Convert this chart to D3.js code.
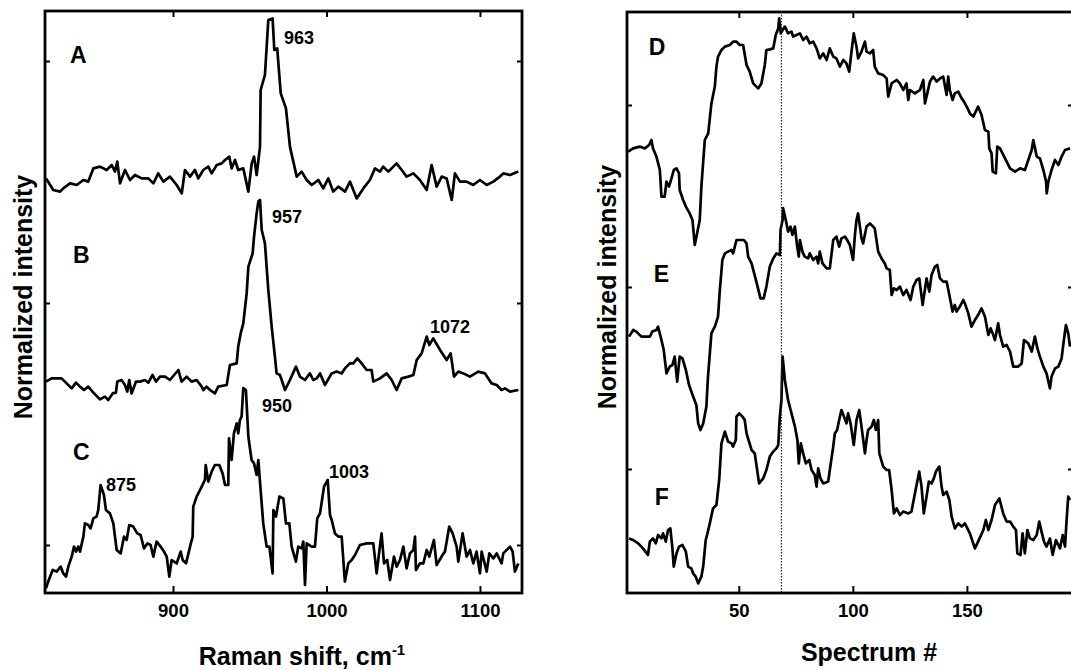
<!DOCTYPE html>
<html>
<head>
<meta charset="utf-8">
<script src="https://cdn.jsdelivr.net/npm/d3@7"></script>
<style>
  body { margin: 0; background: #fff; }
  svg { display: block; font-family: "Liberation Sans", Arial, Helvetica, sans-serif; font-weight: bold; }
</style>
</head>
<body>
<script>
// Raman spectra (left) — stacked, arbitrary intensity units
const shiftA = [817.3, 822, 826.4, 828.5, 832.9, 837.3, 841.6, 844.8, 848.1, 852.4, 856.8, 860.1, 862.2, 863.7, 865.5, 868.7, 872, 875.2, 879.6, 883.9, 887.2, 890.4, 893.7, 898, 902.4, 905.7, 907.8, 911.1, 914.3, 916.5, 919.7, 923, 925.2, 928.5, 931.7, 933.9, 936.7, 938.2, 940.4, 942.5, 945.8, 949.1, 951.3, 952.8, 954.5, 956.7, 957.1, 959.9, 962.1, 964.9, 966, 967.9, 970.2, 973.6, 976.2, 980.6, 983.8, 987.1, 990.4, 994.7, 997.9, 1001.2, 1004.4, 1007.7, 1012.1, 1015.3, 1019.7, 1024, 1028.3, 1031.6, 1034.9, 1037, 1040.3, 1045.7, 1049, 1052.2, 1056.6, 1060.9, 1065.3, 1068.5, 1071.8, 1075.1, 1078.3, 1081.6, 1083.7, 1087, 1091.3, 1095.6, 1100, 1104.4, 1108.7, 1113, 1115.2, 1119.6, 1125];
const intensityA = [207.3, 201.5, 200.7, 202.3, 204.8, 204, 206.5, 205.7, 212.3, 213.2, 211.5, 214, 210.7, 215.7, 204.8, 211.5, 206.5, 209, 207.3, 207.3, 204.8, 209.8, 205.7, 208.2, 204, 199.8, 211.5, 208.2, 211.5, 207.3, 211.5, 213.2, 209.8, 214, 214.8, 216.5, 218.2, 212.3, 216.5, 211.5, 212.3, 200.7, 214.8, 218.2, 209, 223.2, 251.5, 259, 286.5, 287.3, 271.5, 272.3, 249.8, 242.3, 223.2, 208.2, 210.7, 206.5, 204, 206.5, 202.3, 207.3, 200.7, 203.2, 200.7, 205.7, 197.3, 202.3, 206.5, 212.3, 210.7, 213.2, 210.7, 214.8, 211.5, 208.2, 209.8, 206.5, 201.5, 214, 203.2, 208.2, 207.3, 196.5, 209.8, 205.7, 205.7, 204, 206.5, 204, 205.7, 208.2, 209.8, 209, 210.7];

const shiftB = [817.2, 820.9, 827.4, 830.7, 834.0, 836.8, 839.4, 842.0, 844.8, 848.1, 852.4, 855.7, 857.8, 860.7, 862.8, 863.7, 866.5, 868.7, 870.2, 871.5, 873.0, 875.9, 878.5, 881.7, 883.9, 886.7, 888.9, 891.5, 894.8, 898.0, 903.5, 905.6, 908.9, 912.1, 915.4, 918.7, 919.7, 921.9, 924.1, 927.3, 929.5, 935.0, 937.1, 941.5, 942.5, 944.1, 945.8, 948.0, 949.1, 951.9, 952.8, 954.5, 955.6, 956.7, 957.8, 959.9, 962.1, 964.3, 966.4, 967.5, 969.7, 973.0, 976.2, 980.1, 982.7, 986.0, 989.2, 991.4, 993.6, 995.8, 999.0, 1003.4, 1006.6, 1009.9, 1012.0, 1015.3, 1017.5, 1020.1, 1022.9, 1026.2, 1029.4, 1030.5, 1034.9, 1039.2, 1042.5, 1045.7, 1049.0, 1053.3, 1056.6, 1058.8, 1062.0, 1065.3, 1067.0, 1069.6, 1074.0, 1078.3, 1080.9, 1083.1, 1085.9, 1089.2, 1093.5, 1098.9, 1103.3, 1107.6, 1110.9, 1114.1, 1116.3, 1119.6, 1125.0];
const intensityB = [105.7, 107.3, 107.3, 104.8, 102.3, 105.2, 103.2, 101.5, 103.2, 100.2, 96.8, 98.2, 96.5, 99.8, 100.2, 105.7, 106.5, 104, 100.7, 106.5, 99.8, 105.7, 105.7, 106.5, 105.2, 109, 105.7, 108.2, 108.2, 106.5, 111.5, 105.7, 108.2, 105.7, 106.5, 103.2, 101.5, 103.2, 101.5, 99.8, 103.2, 104, 114, 114.8, 123.2, 129.8, 134.8, 149.8, 163.2, 169.8, 178.2, 189.8, 195.7, 196.5, 181.5, 174.8, 151.5, 133.2, 118.2, 109.8, 109, 101.5, 106.5, 113.2, 108.2, 106.5, 109.8, 106.5, 107.3, 109.8, 104, 109.8, 110.7, 109.8, 112.3, 114.8, 114.8, 117.3, 114.8, 111.5, 111.5, 105.7, 107.3, 109.8, 106.5, 101.5, 107.3, 108.2, 109, 116.5, 119.8, 128.2, 124, 127.3, 121.5, 116.5, 119.8, 108.2, 110.7, 109.8, 108.2, 110.7, 109.8, 104.8, 104, 101.5, 102.3, 100.7, 101.5];

const shiftC = [817.2, 818.7, 821.6, 824.2, 826.8, 828.5, 830.3, 831.8, 834.0, 835.5, 836.8, 838.3, 839.4, 841.6, 842.6, 844.8, 846.3, 848.1, 850.2, 851.3, 852.8, 855.0, 856.3, 858.9, 861.1, 863.3, 865.9, 868.1, 869.8, 871.5, 874.1, 876.7, 878.9, 881.1, 883.3, 885.4, 887.2, 889.3, 891.9, 894.1, 895.9, 897.6, 899.1, 902.4, 905.0, 906.3, 908.5, 911.1, 912.8, 913.2, 915.4, 918.7, 920.8, 921.3, 923.0, 925.2, 927.3, 930.2, 932.3, 933.9, 936.0, 936.5, 938.2, 939.7, 941.5, 942.5, 943.6, 944.7, 945.8, 947.5, 949.1, 951.2, 952.8, 954.5, 955.6, 957.1, 958.8, 961.0, 962.8, 964.9, 965.4, 967.1, 969.3, 971.9, 973.6, 975.8, 977.3, 980.1, 981.6, 983.8, 984.9, 986.0, 987.1, 990.3, 992.5, 994.0, 995.8, 998.4, 1000.8, 1002.3, 1003.4, 1005.5, 1007.7, 1009.9, 1012.0, 1014.2, 1016.4, 1018.6, 1021.8, 1026.2, 1030.5, 1032.7, 1034.4, 1035.9, 1037.5, 1039.6, 1041.4, 1044.0, 1045.7, 1047.9, 1050.1, 1052.2, 1054.4, 1056.6, 1057.7, 1058.3, 1060.9, 1063.1, 1065.3, 1067.0, 1070.0, 1071.8, 1075.0, 1077.2, 1080.0, 1082.2, 1084.8, 1085.9, 1088.7, 1091.3, 1093.5, 1095.7, 1097.8, 1100.0, 1101.1, 1104.4, 1106.1, 1108.7, 1110.9, 1114.1, 1115.2, 1119.6, 1121.3, 1122.8, 1125.0];
const intensityC = [2.3, 5.7, 11.5, 10.7, 13.2, 9.8, 8.2, 13.2, 18.2, 23.2, 20.7, 23.2, 20.7, 28.2, 34.8, 34, 32.3, 37.3, 38.2, 41.5, 54, 49, 41.5, 39.8, 34.8, 21.5, 19.8, 28.2, 26.5, 34, 33.2, 29.8, 29, 22.3, 24.8, 24, 18.2, 25.7, 23.2, 20.7, 18.2, 8.2, 16.5, 14.8, 20.7, 16.5, 14.8, 23.2, 28.2, 43.2, 48.2, 53.2, 56.5, 64, 55.7, 60.7, 64, 64, 59.8, 54, 54, 77.3, 66.5, 79.8, 84.8, 79.8, 86.5, 88.2, 102.5, 101.5, 78.2, 66.5, 64.8, 59, 66.5, 51.5, 34.8, 23.2, 23.2, 9.8, 41.5, 38.2, 48.2, 47.3, 34.8, 34.8, 23.2, 15.7, 23.2, 22.3, 25.7, 4, 24.8, 23.2, 23.2, 37.3, 39.8, 53.2, 56.5, 39, 36.5, 29.8, 28.2, 28.2, 5.7, 14.8, 16.5, 19, 24, 24.8, 24.8, 9.8, 20.7, 29.8, 14.8, 16.5, 6.5, 18.2, 13.2, 16.5, 23.2, 12.3, 19.8, 21.5, 28.2, 11.5, 14.8, 14.8, 21.5, 18.2, 26.5, 14, 18.2, 20.7, 33.2, 29.8, 23.2, 15.7, 29.8, 18.2, 21.5, 14.8, 20.7, 9.8, 20.7, 10.7, 19.8, 17.3, 19.8, 14.8, 19.8, 23.2, 20.7, 10.7, 14.8];

// Intensity vs spectrum number (right) — stacked
const spectrumD = [1.5, 3.7, 6.6, 8.8, 10.7, 11.7, 12.4, 13.9, 15.4, 16.1, 17.5, 18.3, 19.4, 20.5, 21.5, 22.7, 23.8, 24.1, 25.6, 26.8, 28.5, 29.7, 30.7, 32.9, 33.6, 35.1, 36.6, 38.0, 39.5, 40.2, 40.9, 42.4, 43.9, 46.1, 47.5, 49.0, 50.4, 51.9, 53.4, 54.8, 56.3, 58.5, 59.9, 61.4, 62.1, 63.6, 65.1, 66.2, 67.3, 67.7, 68.4, 69.2, 70.2, 71.6, 73.1, 73.8, 75.3, 76.8, 78.2, 79.7, 81.1, 82.6, 84.1, 85.5, 87.0, 88.5, 89.9, 91.4, 92.8, 94.3, 95.8, 97.2, 98.4, 99.4, 100.4, 101.6, 102.3, 103.8, 104.5, 105.3, 106.0, 107.5, 108.9, 109.6, 111.1, 113.3, 114.8, 115.5, 117.0, 119.2, 120.6, 122.1, 123.5, 124.3, 125.0, 127.2, 129.4, 130.9, 131.6, 133.8, 135.2, 136.7, 138.2, 139.6, 141.1, 141.8, 142.5, 143.7, 144.7, 146.2, 147.7, 148.7, 149.9, 151.3, 152.8, 154.9, 156.4, 157.9, 159.4, 159.8, 160.8, 161.3, 162.7, 163.3, 164.5, 166.7, 168.9, 171.1, 173.3, 175.4, 176.9, 178.4, 179.1, 180.6, 182.0, 183.5, 184.7, 185.0, 185.7, 187.1, 188.6, 190.1, 191.5, 193.0, 195.2];
const intensityD = [220.7, 222.3, 223.2, 222.3, 224, 226.5, 222.3, 218.2, 211.5, 198.2, 198.2, 205.7, 203.2, 207.3, 211.5, 212.3, 209.8, 201.5, 196.5, 193.2, 189.8, 186.5, 174, 186.5, 203.2, 226.5, 229.8, 244.8, 253.2, 263.2, 268.2, 271.5, 273.2, 274, 275.7, 275.7, 274, 274, 264, 260.7, 254.8, 252.3, 254.8, 264, 271.5, 271.8, 272.3, 279, 282.3, 287.3, 279.8, 281.5, 283.2, 279.8, 280.7, 278.2, 279, 279.8, 276.5, 278.2, 274.8, 275.7, 272.3, 267.3, 269.8, 266.5, 272.3, 268.2, 267.3, 263.2, 266.5, 264.8, 260.7, 270.7, 279.8, 273.2, 267.3, 270.7, 273.2, 275.7, 270.7, 269.8, 271.5, 263.2, 259.8, 259, 257.3, 248.2, 254.8, 256.5, 254.8, 251.5, 254.8, 246.5, 251.5, 249.8, 251.5, 256.5, 244.8, 255.7, 258.2, 255.7, 257.3, 258.2, 249, 258.2, 251.5, 246.5, 249.8, 250.7, 247.3, 245.7, 243.2, 239.8, 238.2, 243.2, 239, 231.5, 230.7, 222.3, 219.8, 210.7, 209.8, 223.2, 222.3, 217.3, 212.3, 210.7, 212.3, 211.5, 216.5, 221.5, 226.5, 218.2, 217.3, 211.5, 205.7, 199.8, 205.7, 211.5, 216.5, 214, 218.2, 221.5, 222.3];

const spectrumE = [1.9, 3.7, 5.1, 7.3, 11.0, 12.1, 13.9, 14.6, 16.1, 17.1, 18.3, 19.7, 20.9, 21.9, 23.0, 24.1, 25.3, 26.8, 28.2, 30.0, 31.4, 32.2, 33.2, 34.4, 35.8, 36.5, 38.0, 39.5, 40.9, 41.7, 42.8, 43.9, 45.3, 46.8, 47.5, 49.0, 50.4, 52.2, 53.4, 54.1, 55.6, 57.7, 59.5, 60.9, 62.1, 63.6, 65.1, 66.5, 68.0, 68.3, 69.2, 69.4, 70.6, 71.6, 72.7, 73.5, 74.6, 75.6, 76.3, 76.8, 77.9, 78.9, 80.4, 81.1, 82.6, 84.1, 84.8, 85.5, 86.7, 88.5, 89.9, 90.6, 91.4, 92.8, 94.0, 95.0, 96.5, 97.5, 98.7, 100.1, 100.9, 101.6, 102.3, 103.8, 104.5, 106.0, 107.5, 109.6, 111.1, 112.6, 114.0, 114.8, 116.2, 117.0, 118.0, 119.2, 120.6, 122.1, 123.5, 125.3, 126.5, 127.9, 129.1, 130.6, 132.3, 133.5, 134.5, 136.0, 137.0, 138.2, 139.6, 141.1, 142.3, 143.7, 144.7, 145.5, 146.9, 148.4, 149.1, 150.6, 152.0, 153.5, 154.9, 156.4, 157.9, 159.4, 160.4, 161.3, 162.3, 163.7, 164.5, 165.9, 167.4, 168.9, 170.3, 172.5, 174.0, 175.0, 176.9, 178.4, 179.8, 180.9, 182.0, 183.5, 184.9, 186.4, 187.1, 188.6, 190.1, 191.5, 192.5, 193.4, 194.4, 195.2];
const intensityE = [128.2, 131.5, 130.7, 128.2, 128.2, 130.7, 131.5, 133.2, 126.5, 121.5, 109.8, 113.2, 114, 118.2, 105.7, 118.2, 117.3, 111.5, 104, 98.2, 94, 84.8, 81.5, 84.8, 93.2, 108.2, 129.8, 133.2, 138.2, 151.5, 166.5, 169.8, 170.7, 171.5, 169.8, 176.5, 176.5, 176.5, 174.8, 168.2, 164.8, 155.7, 147.3, 147.3, 153.2, 163.2, 167.3, 169.8, 169, 181.5, 186.5, 192.5, 186.5, 180.7, 183.2, 179, 183.2, 173.2, 168.2, 176.5, 170.7, 168.2, 167.3, 169.8, 166.5, 168.2, 164.8, 170.7, 164.8, 162.3, 162.3, 169, 176.5, 178.2, 173.2, 177.3, 178.2, 176.5, 174, 166.5, 179, 186.5, 189.8, 177.3, 174.8, 183.2, 184.8, 182.3, 170.7, 167.3, 164.8, 162.3, 161.5, 149, 152.3, 151.5, 153.2, 149, 151.5, 146.5, 153.2, 156.5, 157.3, 144, 157.3, 150.7, 159, 163.2, 164, 157.3, 155.7, 155.7, 149, 140.7, 144, 140.7, 143.2, 146.5, 144.8, 139.8, 133.2, 136.5, 139, 142.3, 138.2, 129, 132.3, 129.8, 126.5, 134.8, 129, 123.2, 124, 120.7, 113.2, 113.2, 114.8, 126.5, 124.8, 120.7, 128.2, 122.3, 118.2, 113.2, 109.8, 102.3, 108.2, 112.3, 113.2, 117.3, 126.5, 134, 129.8, 123.2];

const spectrumF = [1.9, 3.7, 5.9, 8.0, 10.2, 11.0, 12.4, 13.6, 14.6, 16.1, 16.8, 18.0, 19.0, 20.0, 20.9, 21.5, 22.7, 23.8, 25.3, 26.8, 27.8, 29.2, 30.0, 31.1, 32.2, 33.6, 34.4, 35.5, 36.1, 37.3, 38.7, 40.2, 41.4, 42.4, 43.9, 45.3, 46.8, 47.5, 48.7, 49.0, 50.2, 51.6, 52.6, 53.4, 55.6, 57.0, 58.9, 60.7, 62.1, 63.6, 65.1, 66.5, 67.3, 68.0, 68.7, 69.2, 70.2, 71.6, 73.1, 74.6, 75.7, 76.3, 77.2, 78.2, 79.4, 80.9, 81.9, 83.3, 84.1, 84.8, 85.8, 87.0, 89.2, 89.9, 91.4, 92.1, 93.1, 94.0, 95.0, 96.1, 97.2, 97.9, 99.0, 100.4, 101.6, 102.8, 103.8, 105.3, 106.0, 106.7, 108.2, 109.2, 110.1, 111.1, 111.6, 113.3, 114.8, 115.9, 117.0, 118.0, 119.2, 120.6, 122.1, 124.3, 125.7, 127.2, 129.1, 130.1, 131.1, 132.3, 133.3, 134.5, 135.5, 136.4, 137.9, 138.9, 139.6, 141.1, 142.3, 143.3, 144.7, 146.2, 147.7, 149.1, 151.3, 153.5, 154.9, 157.2, 158.3, 159.4, 160.8, 162.3, 164.2, 165.9, 167.4, 168.9, 170.3, 171.5, 172.1, 173.5, 174.4, 175.4, 176.5, 177.6, 179.1, 180.6, 181.7, 182.7, 183.8, 184.9, 186.4, 187.6, 189.0, 190.8, 192.0, 193.0, 193.7, 194.4, 195.2];
const intensityF = [27.3, 26.5, 24.8, 22.3, 19, 25.7, 27.3, 24.8, 29, 27.3, 29.8, 25.7, 31.5, 32.3, 22.3, 13.2, 19.8, 23.2, 24, 20.7, 13.2, 12.3, 9.8, 8.2, 4.8, 8.2, 13.2, 26.5, 29, 34.8, 42.3, 44, 56.5, 74.8, 80.7, 75.7, 74.8, 73.2, 76.5, 88.2, 89.8, 88.2, 86.5, 79.8, 71.5, 69.8, 54.8, 57.3, 61.5, 68.2, 70.7, 72.3, 74, 88.2, 96.5, 118.2, 106.5, 96.5, 89.8, 83.2, 76.5, 64.8, 74.8, 69.8, 64.8, 66.5, 61.5, 59, 53.2, 62.3, 57.3, 54.8, 55.7, 61.5, 73.2, 79.8, 81.5, 86.5, 91.5, 88.2, 84.8, 89.8, 84.8, 74, 86.5, 91.5, 83.2, 69.8, 76.5, 81.5, 83.2, 86.5, 81.5, 86.5, 69.8, 63.2, 61.5, 61.5, 51.5, 39.8, 42.3, 39, 40.7, 39.8, 40.7, 49.8, 60.7, 53.2, 39.8, 48.2, 55.7, 54.8, 57.3, 60.7, 63.2, 53.2, 49, 50.7, 46.5, 38.2, 32.3, 34.8, 33.2, 34.8, 29.8, 22.3, 25.7, 31.5, 36.5, 31.5, 36.5, 44, 47.3, 39.8, 35.7, 35.7, 33.2, 31.5, 19.8, 19, 29.8, 19.8, 31.5, 27.3, 26.5, 29, 35.7, 30.7, 25.7, 23.2, 27.3, 19, 26.5, 22.3, 29, 23.2, 36.5, 48.2, 46.5];

const shiftTicks = [900, 1000, 1100];
const spectrumTicks = [50, 100, 150];
const leftYTicks = [24, 145, 266];
const rightYTicks = [62, 153, 244];
const markerSpectrum = 68.7;

// panel letters and peak labels, anchored in data units
const leftLetters = [["A", 832.9, 265], ["B", 834.8, 165], ["C", 834.8, 66.5]];
const rightLetters = [["D", 10.5, 269], ["E", 12.7, 155.5], ["F", 13.2, 44]];
const peakLabels = [["963", 972.3, 274.5], ["957", 964.5, 185], ["1072", 1067.4, 130], ["950", 958.0, 90.5], ["875", 856.3, 51], ["1003", 1001.6, 57.5]];

const width = 1071, height = 670;
const svg = d3.select('body').append('svg')
    .attr('width', width)
    .attr('height', height);

const xL = d3.scaleLinear().domain([816.6, 1127.4]).range([45, 522]);
const yL = d3.scaleLinear().domain([0, 291]).range([593, 11]);
const xR = d3.scaleLinear().domain([1, 196.5]).range([627, 1073]);
const yR = d3.scaleLinear().domain([0, 290.5]).range([593, 12]);

function panel(id, x, y, series, xTicks, yTicks) {
    const [x0, x1] = x.range();
    const [y0, y1] = y.range();
    const g = svg.append('g');

    svg.append('clipPath').attr('id', id)
        .append('rect')
        .attr('x', x0).attr('y', y1)
        .attr('width', x1 - x0).attr('height', y0 - y1);

    const line = d3.line().x(d => x(d[0])).y(d => y(d[1]));
    g.append('g').attr('clip-path', `url(#${id})`)
        .selectAll('path')
        .data(series)
        .enter()
        .append('path')
        .attr('d', d => line(d3.zip(d[0], d[1])))
        .attr('fill', 'none')
        .attr('stroke', '#000')
        .attr('stroke-width', 2.7)
        .attr('stroke-linejoin', 'round');

    // ticks (inward)
    const bottom = g.append('g').attr('transform', `translate(0,${y0})`)
        .call(d3.axisBottom(x).tickValues(xTicks).tickFormat(d3.format('d'))
            .tickSizeInner(-7).tickSizeOuter(0).tickPadding(11));
    g.append('g').attr('transform', `translate(0,${y1})`)
        .call(d3.axisTop(x).tickValues(xTicks).tickSizeInner(-6).tickSizeOuter(0).tickFormat(''));
    g.append('g').attr('transform', `translate(${x0},0)`)
        .call(d3.axisLeft(y).tickValues(yTicks).tickSizeInner(-5).tickSizeOuter(0).tickFormat(''));
    g.append('g').attr('transform', `translate(${x1},0)`)
        .call(d3.axisRight(y).tickValues(yTicks).tickSizeInner(-5).tickSizeOuter(0).tickFormat(''));
    g.selectAll('.domain').remove();
    g.selectAll('.tick line').attr('stroke', '#000').attr('stroke-width', 2);
    bottom.selectAll('text')
        .style('font-family', '"Liberation Sans", Arial, sans-serif')
        .style('font-weight', 'bold')
        .style('font-size', '18.5px')
        .attr('fill', '#000');

    g.append('rect')
        .attr('x', x0).attr('y', y1)
        .attr('width', x1 - x0).attr('height', y0 - y1)
        .attr('fill', 'none')
        .attr('stroke', '#000')
        .attr('stroke-width', 2.8);
    return g;
}

panel('clipL', xL, yL, [[shiftA, intensityA], [shiftB, intensityB], [shiftC, intensityC]], shiftTicks, leftYTicks);
const right = panel('clipR', xR, yR, [[spectrumD, intensityD], [spectrumE, intensityE], [spectrumF, intensityF]], spectrumTicks, rightYTicks);

// dotted marker line
right.append('line')
    .attr('x1', xR(markerSpectrum)).attr('x2', xR(markerSpectrum))
    .attr('y1', yR.range()[1]).attr('y2', yR.range()[0])
    .attr('stroke', '#222')
    .attr('stroke-width', 1.2)
    .attr('stroke-dasharray', '1.5,1.5');

svg.selectAll('text.letterL')
    .data(leftLetters)
    .enter().append('text')
    .attr('x', d => xL(d[1])).attr('y', d => yL(d[2]))
    .style('font-size', '23px')
    .text(d => d[0]);

svg.selectAll('text.letterR')
    .data(rightLetters)
    .enter().append('text')
    .attr('x', d => xR(d[1])).attr('y', d => yR(d[2]))
    .style('font-size', '23px')
    .text(d => d[0]);

svg.selectAll('text.peak')
    .data(peakLabels)
    .enter().append('text')
    .attr('x', d => xL(d[1])).attr('y', d => yL(d[2]))
    .style('font-size', '18px')
    .text(d => d[0]);

// axis titles
const ramanTitle = svg.append('text')
    .attr('x', 302).attr('y', 665)
    .attr('text-anchor', 'middle')
    .style('font-size', '25px');
ramanTitle.append('tspan').text('Raman shift, cm');
ramanTitle.append('tspan').attr('dy', -10).style('font-size', '15px').text('-1');

svg.append('text')
    .attr('x', 869).attr('y', 661)
    .attr('text-anchor', 'middle')
    .style('font-size', '25px')
    .text('Spectrum #');

svg.append('text')
    .attr('transform', 'translate(32,297) rotate(-90)')
    .attr('text-anchor', 'middle')
    .style('font-size', '25px')
    .text('Normalized intensity');

svg.append('text')
    .attr('transform', 'translate(616,287) rotate(-90)')
    .attr('text-anchor', 'middle')
    .style('font-size', '25px')
    .text('Normalized intensity');
</script>
</body>
</html>
